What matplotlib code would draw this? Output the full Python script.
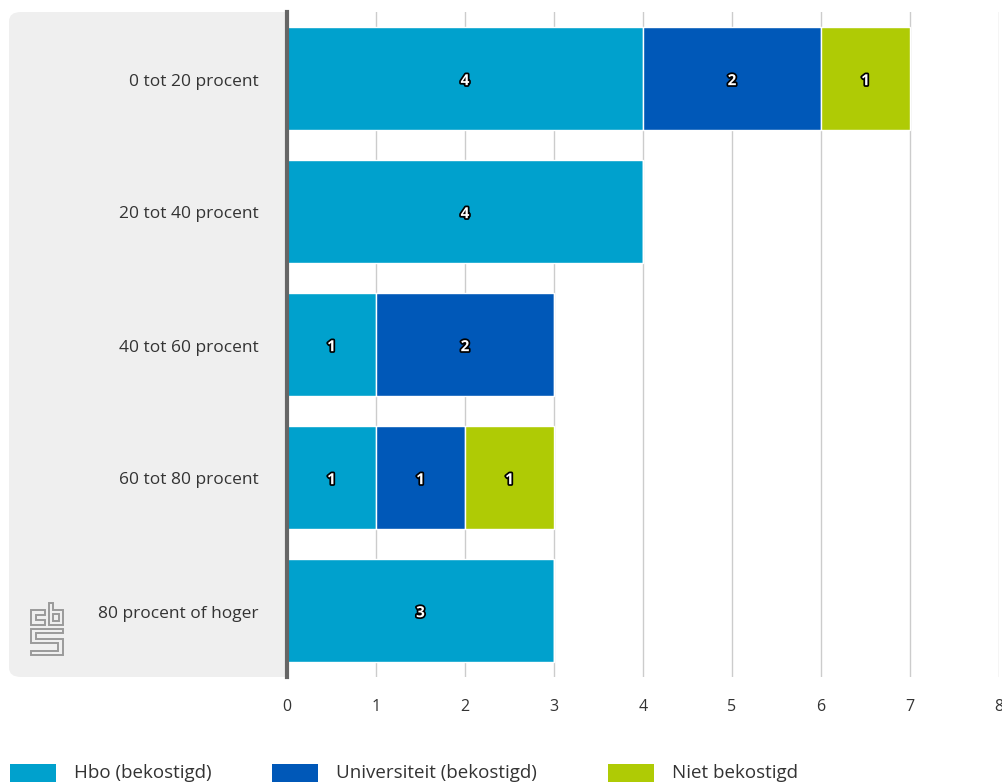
import matplotlib
matplotlib.use("Agg")
import matplotlib.pyplot as plt
import matplotlib.patheffects as pe
import matplotlib.transforms as mtransforms
from matplotlib.patches import FancyBboxPatch, Polygon
import numpy as np

categories = ["0 tot 20 procent", "20 tot 40 procent", "40 tot 60 procent",
              "60 tot 80 procent", "80 procent of hoger"]
series_names = ["Hbo (bekostigd)", "Universiteit (bekostigd)", "Niet bekostigd"]
hbo = [4, 4, 1, 1, 3]
universiteit = [2, 0, 2, 1, 0]
niet = [1, 0, 0, 1, 0]
colors = ["#00A1CD", "#0058B8", "#AFCB05"]
xticks = [0, 1, 2, 3, 4, 5, 6, 7, 8]

plt.rcParams['font.family'] = ['Open Sans', 'DejaVu Sans']

W, H = 1002, 782
fig = plt.figure(figsize=(W / 100, H / 100), dpi=100)

# gray panel behind labels
panel = FancyBboxPatch((9 / W, 1 - 677 / H), (300 - 9) / W, (677 - 12) / H,
                       boxstyle="round,pad=0,rounding_size=0.012",
                       transform=fig.transFigure, facecolor="#EFEFEF",
                       edgecolor="none", zorder=-10)
fig.patches.append(panel)

ax = fig.add_axes([287 / W, 1 - 677 / H, (999 - 287) / W, (677 - 12) / H])
ax.set_facecolor("white")
ax.patch.set_zorder(-5)
y = np.arange(len(categories))
left = np.zeros(len(categories))
for name, vals, c in zip(series_names, [hbo, universiteit, niet], colors):
    vals = np.array(vals, dtype=float)
    ax.barh(y, vals, left=left, height=0.77, color=c, edgecolor="white",
            linewidth=1, label=name, zorder=3)
    for yi, v, l in zip(y, vals, left):
        if v > 0:
            ax.text(l + v / 2, yi + 0.02, f"{int(v)}", ha="center", va="center",
                    color="white", fontsize=11, fontweight="bold", zorder=4,
                    path_effects=[pe.withStroke(linewidth=2.5, foreground="black")])
    left += vals

ax.set_xlim(0, 8)
ax.set_ylim(4.5, -0.5)
ax.set_xticks(xticks)
ax.set_xticklabels([str(t) for t in xticks], fontsize=11.5, color="#333333")
ax.tick_params(axis="x", length=0, pad=16)
ax.set_yticks(y)
ax.set_yticklabels([])
ax.tick_params(axis="y", length=0)
lab_tr = ax.get_yaxis_transform() + mtransforms.ScaledTranslation(-28 / 100, -3 / 100, fig.dpi_scale_trans)
for yi, cat in zip(y, categories):
    ax.text(0, yi, cat, transform=lab_tr, ha="right", va="center",
            fontsize=12.5, color="#333333")
ax.grid(axis="x", color="#CCCCCC", linewidth=1, zorder=0)
for s in ["top", "right", "bottom"]:
    ax.spines[s].set_visible(False)
ax.spines["left"].set_color("#666666")
ax.spines["left"].set_linewidth(3)
ax.spines["left"].set_zorder(5)

# legend
leg_items = [(10, "Hbo (bekostigd)"), (272, "Universiteit (bekostigd)"), (608, "Niet bekostigd")]
for (x0, name), c in zip(leg_items, colors):
    fig.patches.append(plt.Rectangle((x0 / W, 1 - 782 / H), 46 / W, 18 / H,
                                     transform=fig.transFigure, facecolor=c,
                                     edgecolor="none"))
    fig.text((x0 + 64) / W, 1 - 773 / H, name, fontsize=13.5, color="#333333",
             va="center", ha="left")

# simplified CBS logo (outlined letters)
lc = "#9A9A9A"
def poly(pts):
    fig.patches.append(Polygon([(px / W, 1 - py / H) for px, py in pts], closed=True,
                               fill=False, edgecolor=lc, linewidth=1.4,
                               transform=fig.transFigure, zorder=2))
poly([(31, 610), (45, 610), (45, 615), (36, 615), (36, 620), (45, 620), (45, 625), (31, 625)])
poly([(49, 603), (53, 603), (53, 610), (63, 610), (63, 625), (49, 625)])
poly([(53, 614), (59, 614), (59, 621), (53, 621)])
poly([(31, 629), (63, 629), (63, 633), (36, 633), (36, 639), (63, 639), (63, 655),
      (31, 655), (31, 651), (58, 651), (58, 643), (31, 643)])

fig.savefig("out.png", dpi=100)
